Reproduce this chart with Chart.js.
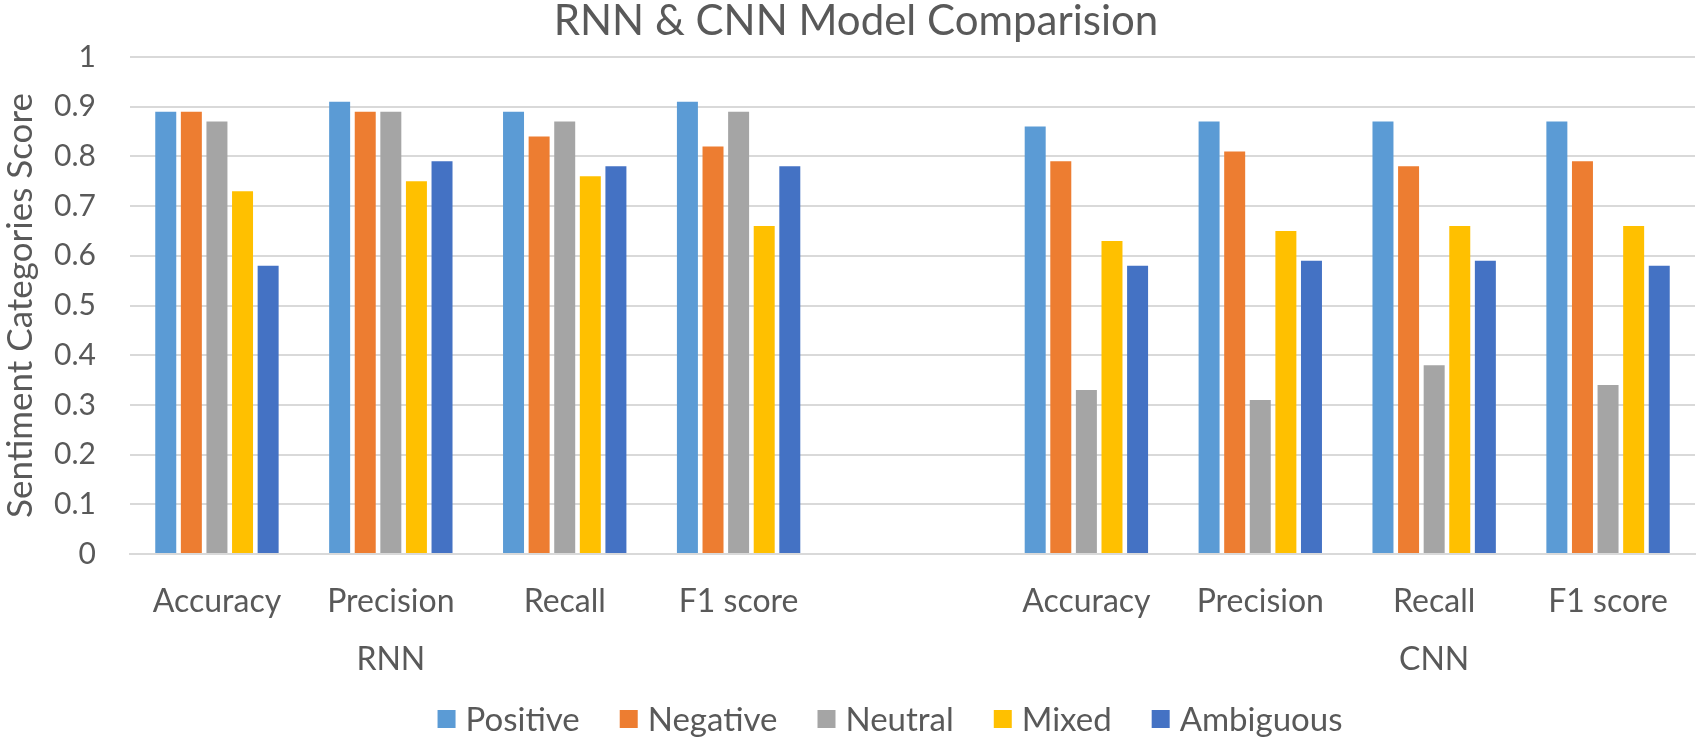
<!DOCTYPE html>
<html><head><meta charset="utf-8">
<script src="https://cdn.jsdelivr.net/npm/chart.js@4.4.1/dist/chart.umd.min.js"></script>
<style>html,body{margin:0;padding:0;background:#fff;}#wrap{width:1700px;height:744px;}</style>
</head><body><div id="wrap"><canvas id="c" width="1700" height="744"></canvas></div>
<script>
const categories = ['Accuracy','Precision','Recall','F1 score','','Accuracy','Precision','Recall','F1 score'];
const groupLabels = ['RNN','CNN'];
const groupLabelIndex = [1,7];
const seriesNames = ['Positive','Negative','Neutral','Mixed','Ambiguous'];
const positive  = [0.89,0.91,0.89,0.91,null,0.86,0.87,0.87,0.87];
const negative  = [0.89,0.89,0.84,0.82,null,0.79,0.81,0.78,0.79];
const neutral   = [0.87,0.89,0.87,0.89,null,0.33,0.31,0.38,0.34];
const mixed     = [0.73,0.75,0.76,0.66,null,0.63,0.65,0.66,0.66];
const ambiguous = [0.58,0.79,0.78,0.78,null,0.58,0.59,0.59,0.58];
const yTicks = [0,0.1,0.2,0.3,0.4,0.5,0.6,0.7,0.8,0.9,1];
const colors = ['#5B9BD5','#ED7D31','#A5A5A5','#FFC000','#4472C4'];
const chartTitle = 'RNN & CNN Model Comparision';
const yTitle = 'Sentiment Categories Score';
const FONT = 'Lato, "Open Sans", sans-serif';
const TXT = '#595959';

const extrasPlugin = {
  id:'extras',
  afterDraw(chart){
    const ctx = chart.ctx, x = chart.scales.x;
    ctx.save();
    ctx.fillStyle = TXT;
    ctx.font = '32px ' + FONT;
    ctx.textAlign = 'center';
    ctx.textBaseline = 'alphabetic';
    groupLabels.forEach((g,i)=>{
      ctx.fillText(g, x.getPixelForValue(groupLabelIndex[i]), 670);
    });
    ctx.font = '42px ' + FONT;
    ctx.fillText(chartTitle, 856, 35);
    ctx.font = '33px ' + FONT;
    const box = 18, gapBT = 10, gapItem = 40;
    const widths = seriesNames.map(n => ctx.measureText(n).width);
    const total = widths.reduce((a,w)=>a+box+gapBT+w,0) + gapItem*(seriesNames.length-1);
    let cx = 890 - total/2;
    ctx.textAlign = 'left';
    seriesNames.forEach((n,i)=>{
      ctx.fillStyle = colors[i];
      ctx.fillRect(cx, 710, box, box);
      ctx.fillStyle = TXT;
      ctx.fillText(n, cx + box + gapBT, 731);
      cx += box + gapBT + widths[i] + gapItem;
    });
    ctx.restore();
  }
};

new Chart(document.getElementById('c'), {
  type:'bar',
  data:{
    labels: categories,
    datasets: [positive,negative,neutral,mixed,ambiguous].map((d,i)=>({
      label: seriesNames[i], data: d, backgroundColor: colors[i],
      categoryPercentage: 0.736, barPercentage: 0.82
    }))
  },
  options:{
    responsive:false, animation:false,
    layout:{padding:{top:57,right:5,left:0,bottom:0}},
    plugins:{
      title:{display:false},
      tooltip:{enabled:false},
      legend:{display:false}
    },
    scales:{
      x:{
        grid:{display:false, drawTicks:false},
        border:{display:true, color:'#d9d9d9', width:2},
        ticks:{color:TXT, font:{family:FONT,size:32}, padding:28, maxRotation:0, autoSkip:false},
        afterFit(s){ s.height = 190; }
      },
      y:{
        min:0, max:1,
        afterBuildTicks(s){ s.ticks = yTicks.map(v=>({value:v})); },
        grid:{color:'#d9d9d9', lineWidth:2, drawTicks:false},
        border:{display:false},
        ticks:{color:TXT, font:{family:FONT,size:30}, padding:34, callback:v=>String(+v.toFixed(1))},
        title:{display:true, text:yTitle, color:TXT, font:{family:FONT,size:35}, padding:0},
        afterFit(s){ s.width = 130; }
      }
    }
  },
  plugins:[extrasPlugin]
});
</script></body></html>
